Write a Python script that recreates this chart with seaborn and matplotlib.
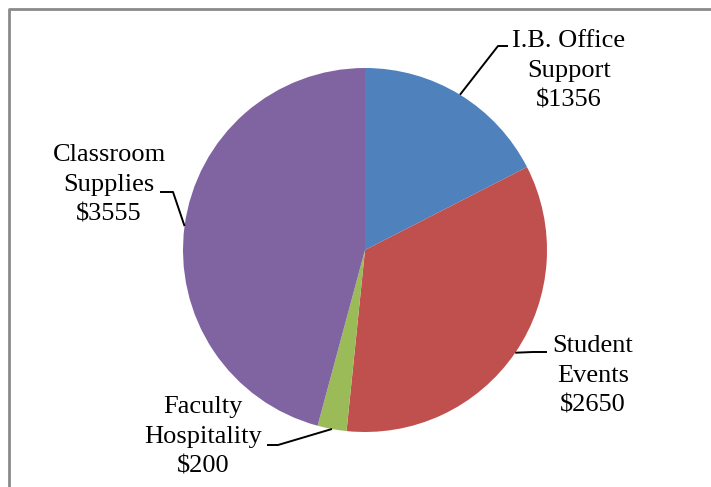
import numpy as np
import matplotlib
matplotlib.use('Agg')
import matplotlib.pyplot as plt
from matplotlib.lines import Line2D
import seaborn as sns

# budget data
categories = ["I.B. Office\nSupport", "Student\nEvents", "Faculty\nHospitality", "Classroom\nSupplies"]
amounts = [1356, 2650, 200, 3555]
colors = ["#4F81BD", "#C0504D", "#9BBB59", "#8064A2"]

# label layout in pixels: text centre and elbow of the leader line
text_px = [(569, 71), (593, 376), (203, 437), (109, 185)]
elbow_px = [[(498, 46), (508, 46)], [(533, 352), (547, 352)],
            [(278, 445), (267, 445)], [(173, 192), (160, 192)]]

W, H = 711, 487
CX, CY, R = 365, 250, 182

sns.set_style("white")
plt.rcParams['font.family'] = ['Liberation Serif', 'DejaVu Serif']

fig = plt.figure(figsize=(W / 100, H / 100), dpi=100)
ax = fig.add_axes([(CX - R) / W, (H - CY - R) / H, 2 * R / W, 2 * R / H])

palette = sns.color_palette(colors)
wedges, _ = ax.pie(amounts, colors=palette, startangle=90, counterclock=False,
                   radius=1, wedgeprops=dict(linewidth=0))
ax.set_xlim(-1, 1)
ax.set_ylim(-1, 1)
ax.axis('off')


def to_data(p):
    return (p[0] - CX) / R, (CY - p[1]) / R


for w, cat, amt, tp, elb in zip(wedges, categories, amounts, text_px, elbow_px):
    ang = np.deg2rad((w.theta1 + w.theta2) / 2)
    xs = [np.cos(ang)] + [to_data(p)[0] for p in elb]
    ys = [np.sin(ang)] + [to_data(p)[1] for p in elb]
    ax.plot(xs, ys, color="black", lw=1.4, clip_on=False, solid_capstyle='butt')
    tx, ty = to_data(tp)
    ax.text(tx, ty, f"{cat}\n${amt}", ha='center', va='center', fontsize=19,
            linespacing=1.45, color="black", clip_on=False)

# chart frame (only top and left edges are visible in the crop)
bx, by = 8.5 / W, 1 - 8.5 / H
fig.add_artist(Line2D([bx, bx, 1], [0, by, by], transform=fig.transFigure,
                      color="#8a8a8a", lw=2))

fig.savefig("out.png", dpi=100)
